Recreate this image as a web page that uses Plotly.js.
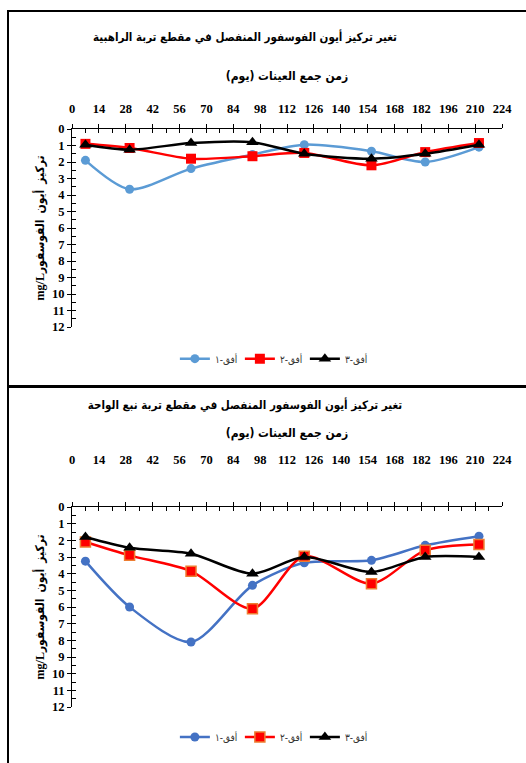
<!DOCTYPE html>
<html>
<head>
<meta charset="utf-8">
<script src="https://cdn.plot.ly/plotly-3.0.1.min.js"></script>
<style>
  html, body { margin: 0; padding: 0; background: #fff; }
  #page { position: relative; width: 526px; height: 763px; overflow: hidden; }
  #chartTop { position: absolute; left: 0; top: 0; width: 526px; height: 385px; }
  #chartBottom { position: absolute; left: 0; top: 385px; width: 526px; height: 378px; }
  .frame { position: absolute; background: #000; z-index: 5; }
</style>
</head>
<body>
<div id="page">
  <div id="chartTop"></div>
  <div id="chartBottom"></div>
  <div class="frame" style="left:7px; top:10px; width:519px; height:2px;"></div>
  <div class="frame" style="left:7px; top:10px; width:2px; height:753px;"></div>
  <div class="frame" style="left:7px; top:385px; width:519px; height:3px;"></div>
</div>
<script>
// Sampling days (x) shared by both soil profiles
const days = [7, 30, 62, 94, 121, 156, 184, 212];

// Profile 1: الراهبية
const titleTop = 'تغير تركيز أيون الفوسفور المنفصل في مقطع تربة الراهبية';
const rahbiyaH1 = [1.9, 3.65, 2.4, 1.55, 0.95, 1.35, 2.0, 1.1];
const rahbiyaH2 = [0.9, 1.15, 1.8, 1.65, 1.45, 2.2, 1.4, 0.85];
const rahbiyaH3 = [0.95, 1.25, 0.85, 0.8, 1.5, 1.8, 1.5, 0.95];

// Profile 2: نبع الواحة
const titleBottom = 'تغير تركيز أيون الفوسفور المنفصل في مقطع تربة نبع الواحة';
const wahaH1 = [3.25, 6.0, 8.1, 4.7, 3.35, 3.2, 2.3, 1.75];
const wahaH2 = [2.1, 2.9, 3.85, 6.1, 2.95, 4.6, 2.6, 2.25];
const wahaH3 = [1.8, 2.45, 2.8, 4.0, 3.0, 3.9, 3.0, 3.0];

// Series names and axis labels
const seriesNames = ['أفق-١', 'أفق-٢', 'أفق-٣'];
const xTitle = 'زمن جمع العينات (يوم)';
const yTitle = 'mg/Lتركيز  أيون  الفوسفور';
const xTickVals = [0, 14, 28, 42, 56, 70, 84, 98, 112, 126, 140, 154, 168, 182, 196, 210, 224];
const yTickVals = [0, 1, 2, 3, 4, 5, 6, 7, 8, 9, 10, 11, 12];

const FONT = 'Liberation Serif, Times New Roman, DejaVu Sans Condensed, DejaVu Sans, serif';
const AR_FONT = 'DejaVu Sans Condensed, DejaVu Sans, sans-serif';

function drawChart(divId, title, s1, s2, s3, opt) {
  const common = { x: days, mode: 'lines+markers', type: 'scatter',
                   line: { shape: 'spline', smoothing: 0.8, width: 2.5 } };
  const traces = [
    Object.assign({}, common, { y: s1, name: seriesNames[0],
      line: Object.assign({}, common.line, { color: opt.c1 }),
      marker: { symbol: 'circle', size: 9, color: opt.c1 } }),
    Object.assign({}, common, { y: s2, name: seriesNames[1],
      line: Object.assign({}, common.line, { color: '#ff0000' }),
      marker: { symbol: 'square', size: 10, color: '#ff0000',
                line: { color: opt.sqEdge, width: opt.sqEdgeW } } }),
    Object.assign({}, common, { y: s3, name: seriesNames[2],
      line: Object.assign({}, common.line, { color: '#000000' }),
      marker: { symbol: 'triangle-up', size: 11, color: '#000000' } }),
    // empty traces so the secondary tick axes get drawn
    { x: [], y: [], type: 'scatter', xaxis: 'x2', yaxis: 'y', showlegend: false, hoverinfo: 'skip' },
    { x: [], y: [], type: 'scatter', xaxis: 'x', yaxis: 'y2', showlegend: false, hoverinfo: 'skip' }
  ];
  const layout = {
    width: 526, height: opt.h,
    margin: { l: 71.5, r: 24, t: opt.t, b: opt.h - opt.t - 200 },
    paper_bgcolor: 'rgba(0,0,0,0)', plot_bgcolor: '#fff',
    showlegend: true,
    title: { text: title, x: 245 / 526, xanchor: 'center',
             y: 1 - opt.titleY / opt.h, yanchor: 'middle',
             font: { family: AR_FONT, size: 11.5, color: '#000', weight: 'bold' } },
    xaxis: {
      side: 'top', range: [0, 224], tickvals: xTickVals,
      ticks: 'outside', ticklen: 4, tickcolor: '#000', tickwidth: 1,
      showline: true, linecolor: '#000', linewidth: 1,
      showgrid: false, zeroline: false, fixedrange: true,
      ticklabelstandoff: opt.tickStand,
      tickfont: { family: FONT, size: 12.5, color: '#000', weight: 'bold' },
      title: { text: xTitle, standoff: opt.xTitleStand,
               font: { family: AR_FONT, size: 12, color: '#000', weight: 'bold' } }
    },
    xaxis2: {
      overlaying: 'x', side: 'top', anchor: 'y', range: [0, 224],
      dtick: 7, tick0: 0, ticks: 'inside', ticklen: 4, tickcolor: '#000', tickwidth: 1,
      showticklabels: false, showline: false, showgrid: false, zeroline: false, fixedrange: true
    },
    yaxis: {
      range: [12, 0], tickvals: yTickVals,
      ticks: 'outside', ticklen: 4, tickcolor: '#000', tickwidth: 1,
      showline: true, linecolor: '#000', linewidth: 1,
      showgrid: false, zeroline: false, fixedrange: true,
      tickfont: { family: FONT, size: 12.5, color: '#000', weight: 'bold' },
      title: { text: yTitle, standoff: 4,
               font: { family: FONT, size: 12, color: '#000', weight: 'bold' } }
    },
    yaxis2: {
      overlaying: 'y', side: 'left', anchor: 'x', range: [12, 0],
      dtick: 0.5, tick0: 0, ticks: 'inside', ticklen: 4, tickcolor: '#000', tickwidth: 1,
      showticklabels: false, showline: false, showgrid: false, zeroline: false, fixedrange: true
    },
    legend: {
      orientation: 'h', x: 0.466, xanchor: 'center', y: opt.legY, yanchor: 'middle',
      font: { family: AR_FONT, size: 10, color: '#333' }, itemwidth: 30,
      entrywidth: 20, entrywidthmode: 'pixels',
      bgcolor: 'rgba(0,0,0,0)'
    }
  };
  Plotly.newPlot(divId, traces, layout, { staticPlot: true, displayModeBar: false });
}

drawChart('chartTop', titleTop, rahbiyaH1, rahbiyaH2, rahbiyaH3,
  { h: 385, t: 129, titleY: 37, tickStand: 6, xTitleStand: 18, legY: -0.16,
    c1: '#5b9bd5', sqEdge: '#ff0000', sqEdgeW: 0 });

drawChart('chartBottom', titleBottom, wahaH1, wahaH2, wahaH3,
  { h: 378, t: 121.7, titleY: 20, tickStand: 33, xTitleStand: 12, legY: -0.15,
    c1: '#4472c4', sqEdge: '#ed7d31', sqEdgeW: 1.5 });
</script>
</body>
</html>
